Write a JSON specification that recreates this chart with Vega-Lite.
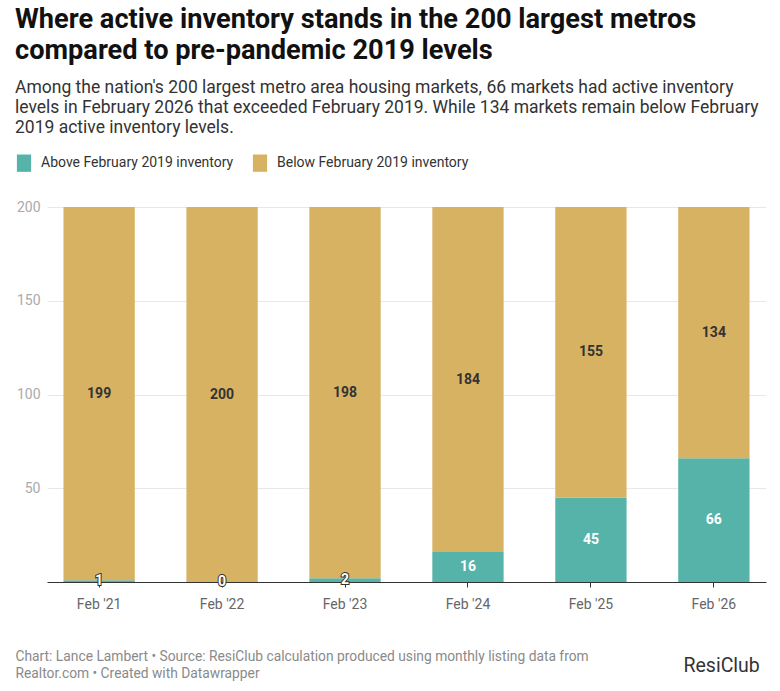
{
  "$schema": "https://vega.github.io/schema/vega-lite/v6.json",
  "width": 719,
  "height": 375,
  "autosize": {"type": "none"},
  "padding": {"left": 47, "top": 207, "right": 14, "bottom": 109},
  "background": "white",
  "title": {
    "text": ["Where active inventory stands in the 200 largest metros", "compared to pre-pandemic 2019 levels"],
    "subtitle": ["Among the nation's 200 largest metro area housing markets, 66 markets had active inventory", "levels in February 2026 that exceeded February 2019. While 134 markets remain below February", "2019 active inventory levels."],
    "anchor": "start",
    "frame": "group",
    "dx": -32,
    "offset": 17,
    "font": "Roboto",
    "fontSize": 27.2,
    "fontWeight": "bold",
    "color": "#111111",
    "lineHeight": 31,
    "subtitleFont": "Roboto",
    "subtitleFontSize": 17.5,
    "subtitleColor": "#333333",
    "subtitleLineHeight": 20,
    "subtitlePadding": 13
  },
  "data": {
    "values": [
      {"date": "Feb '21", "status": "Above February 2019 inventory", "ord": 1, "count": 1},
      {"date": "Feb '21", "status": "Below February 2019 inventory", "ord": 2, "count": 199},
      {"date": "Feb '22", "status": "Above February 2019 inventory", "ord": 1, "count": 0},
      {"date": "Feb '22", "status": "Below February 2019 inventory", "ord": 2, "count": 200},
      {"date": "Feb '23", "status": "Above February 2019 inventory", "ord": 1, "count": 2},
      {"date": "Feb '23", "status": "Below February 2019 inventory", "ord": 2, "count": 198},
      {"date": "Feb '24", "status": "Above February 2019 inventory", "ord": 1, "count": 16},
      {"date": "Feb '24", "status": "Below February 2019 inventory", "ord": 2, "count": 184},
      {"date": "Feb '25", "status": "Above February 2019 inventory", "ord": 1, "count": 45},
      {"date": "Feb '25", "status": "Below February 2019 inventory", "ord": 2, "count": 155},
      {"date": "Feb '26", "status": "Above February 2019 inventory", "ord": 1, "count": 66},
      {"date": "Feb '26", "status": "Below February 2019 inventory", "ord": 2, "count": 134}
    ]
  },
  "transform": [
    {"stack": "count", "groupby": ["date"], "sort": [{"field": "ord", "order": "ascending"}], "as": ["y0", "y1"]},
    {"calculate": "(datum.y0 + datum.y1) / 2", "as": "mid"}
  ],
  "encoding": {
    "x": {
      "field": "date",
      "type": "nominal",
      "sort": ["Feb '21", "Feb '22", "Feb '23", "Feb '24", "Feb '25", "Feb '26"],
      "scale": {"paddingInner": 0.42, "paddingOuter": 0.134},
      "axis": {
        "labelAngle": 0,
        "labelColor": "#666666",
        "labelFont": "Roboto",
        "labelFontSize": 14,
        "labelPadding": 10,
        "domainColor": "#333333",
        "domainWidth": 1.2,
        "tickColor": "#333333",
        "tickSize": 5,
        "title": ["Chart: Lance Lambert • Source: ResiClub calculation produced using monthly listing data from", "Realtor.com • Created with Datawrapper"],
        "titleX": -32,
        "titleY": 67,
        "titleAlign": "left",
        "titleAnchor": "start",
        "titleBaseline": "top",
        "titleFont": "Roboto",
        "titleFontSize": 13.8,
        "titleFontWeight": "normal",
        "titleColor": "#8a8a8a",
        "titleLineHeight": 17
      }
    }
  },
  "layer": [
    {
      "mark": {"type": "bar"},
      "encoding": {
        "y": {
          "field": "y0",
          "type": "quantitative",
          "scale": {"domain": [0, 200], "nice": false},
          "axis": {
            "values": [50, 100, 150, 200],
            "domain": false,
            "ticks": false,
            "labelColor": "#aaaaaa",
            "labelFont": "Roboto",
            "labelFontSize": 14,
            "labelPadding": 7,
            "gridColor": "#e8e8e8",
            "title": "ResiClub",
            "titleAngle": 0,
            "titleX": 636,
            "titleY": 458,
            "titleAlign": "left",
            "titleBaseline": "middle",
            "titleFont": "Roboto",
            "titleFontSize": 19.5,
            "titleFontWeight": "normal",
            "titleColor": "#333333"
          }
        },
        "y2": {"field": "y1"},
        "color": {
          "field": "status",
          "type": "nominal",
          "scale": {"domain": ["Above February 2019 inventory", "Below February 2019 inventory"], "range": ["#56b3a9", "#d8b263"]},
          "legend": {
            "orient": "none",
            "legendX": -32,
            "legendY": -53,
            "direction": "horizontal",
            "title": null,
            "symbolType": "M-0.82,-1L0.82,-1L0.82,1L-0.82,1Z",
            "symbolSize": 300,
            "symbolStrokeWidth": 0,
            "symbolOpacity": 1,
            "labelFont": "Roboto",
            "labelFontSize": 14,
            "labelColor": "#333333",
            "labelOffset": 8,
            "labelLimit": 0,
            "columnPadding": 17
          }
        }
      }
    },
    {
      "transform": [{"filter": "datum.count < 5 && datum.ord == 1"}],
      "mark": {"type": "text", "font": "Roboto", "fontSize": 14, "fontWeight": "bold", "stroke": "#333333", "strokeWidth": 2, "fill": "#333333"},
      "encoding": {
        "y": {"field": "mid", "type": "quantitative"},
        "text": {"field": "count", "type": "quantitative"}
      }
    },
    {
      "mark": {"type": "text", "font": "Roboto", "fontSize": 14, "fontWeight": "bold"},
      "encoding": {
        "y": {"field": "mid", "type": "quantitative"},
        "text": {"field": "count", "type": "quantitative"},
        "color": {
          "condition": {"test": "datum.ord == 1", "value": "#ffffff"},
          "value": "#333333"
        }
      }
    }
  ],
  "config": {
    "view": {"stroke": null},
    "axis": {"labelFont": "Roboto"}
  }
}
